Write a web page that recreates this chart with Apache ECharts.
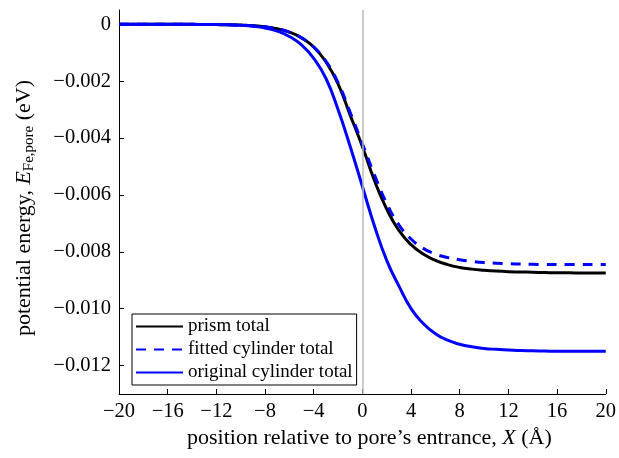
<!DOCTYPE html>
<html>
<head>
<meta charset="utf-8">
<script src="https://cdn.jsdelivr.net/npm/echarts@6/dist/echarts.min.js"></script>
<style>html,body{margin:0;padding:0;background:#fff}#c{width:619px;height:458px}</style>
</head>
<body>
<div id="c"></div>
<script>
const xValues = [-20,-19,-18,-17,-16,-15,-14,-13,-12,-11,-10,-9,-8,-7,-6,-5,-4,-3,-2,-1,0,1,2,3,4,5,6,7,8,9,10,11,12,13,14,15,16,17,18,19,20];
const prismTotal = [0,0,0,-0.000001,-0.000002,-0.000003,-0.000005,-0.000008,-0.000012,-0.00002,-0.00003,-0.00005,-0.00009,-0.00016,-0.00028,-0.00048,-0.0008,-0.00132,-0.0021,-0.0032,-0.0043,-0.0055,-0.0065,-0.00725,-0.00775,-0.00808,-0.0083,-0.00845,-0.00855,-0.00861,-0.00865,-0.00868,-0.0087,-0.00871,-0.00872,-0.00873,-0.00874,-0.00874,-0.00875,-0.00875,-0.00875];
const fittedCylinderTotal = [0,0,0,-0.000001,-0.000002,-0.000003,-0.000005,-0.000008,-0.000012,-0.00002,-0.00003,-0.00005,-0.00009,-0.00016,-0.00028,-0.00048,-0.0008,-0.0013,-0.00205,-0.0031,-0.0042,-0.0053,-0.0063,-0.00705,-0.00755,-0.00788,-0.00808,-0.0082,-0.00828,-0.00834,-0.00838,-0.0084,-0.00842,-0.00843,-0.00844,-0.00845,-0.00845,-0.00845,-0.00845,-0.00845,-0.00845];
const originalCylinderTotal = [0,0,0,-0.000001,-0.000002,-0.000003,-0.000005,-0.000008,-0.000013,-0.000022,-0.00004,-0.00007,-0.00013,-0.00024,-0.00043,-0.00073,-0.0012,-0.0019,-0.003,-0.0043,-0.0057,-0.0071,-0.0083,-0.0092,-0.01,-0.01052,-0.01088,-0.01111,-0.01125,-0.01134,-0.0114,-0.01143,-0.01145,-0.01147,-0.01148,-0.01149,-0.0115,-0.0115,-0.0115,-0.0115,-0.0115];
const yTicks = [0,-0.002,-0.004,-0.006,-0.008,-0.010,-0.012];
const xTicks = [-20,-16,-12,-8,-4,0,4,8,12,16,20];
const seriesNames = ['prism total','fitted cylinder total','original cylinder total'];

const FONT = '"Liberation Serif", "DejaVu Serif", serif';
const pair = arr => xValues.map((x, i) => [x, arr[i]]);
const fmtY = v => (Math.abs(v) < 1e-12 ? '0' : '\u2212' + Math.abs(v).toFixed(3));
const fmtX = v => (v < 0 ? '\u2212' + Math.abs(v) : String(v));

const chart = echarts.init(document.getElementById('c'), null, {renderer: 'canvas'});
chart.setOption({
  animation: false,
  backgroundColor: '#fff',
  grid: {left: 119, right: 11, top: 10, bottom: 64, containLabel: false},
  xAxis: {
    type: 'value', min: -20, max: 20, interval: 4,
    axisLine: {show: true, onZero: false, lineStyle: {color: '#000', width: 1}},
    axisTick: {show: true, inside: true, length: 5, lineStyle: {color: '#000'}, customValues: xTicks},
    splitLine: {show: false},
    axisLabel: {formatter: fmtX, color: '#000', fontFamily: FONT, fontSize: 20.5, margin: 7, customValues: xTicks},
    name: '{n|position relative to pore\u2019s entrance, }{i|X}{n| (\u00c5)}',
    nameLocation: 'middle', nameGap: 33,
    nameTextStyle: {
      padding: [0, 0, 0, 14],
      rich: {
        n: {fontFamily: FONT, fontSize: 22, color: '#000'},
        i: {fontFamily: FONT, fontSize: 22, color: '#000', fontStyle: 'italic'}
      }
    }
  },
  yAxis: {
    type: 'value', min: -0.013, max: 0.0005,
    axisLine: {show: true, onZero: false, lineStyle: {color: '#000', width: 1}},
    axisTick: {show: true, inside: true, length: 5, lineStyle: {color: '#000'}, customValues: yTicks},
    splitLine: {show: false},
    axisLabel: {formatter: fmtY, color: '#000', fontFamily: FONT, fontSize: 20.5, margin: 8, customValues: yTicks},
    name: '{n|potential energy, }{i|E}{s|Fe,pore}{n| (eV)}',
    nameLocation: 'middle', nameGap: 82, nameRotate: 90,
    nameTextStyle: {
      padding: [0, 12, 0, 0],
      rich: {
        n: {fontFamily: FONT, fontSize: 22, color: '#000', lineHeight: 26},
        i: {fontFamily: FONT, fontSize: 22, color: '#000', fontStyle: 'italic', lineHeight: 26},
        s: {fontFamily: FONT, fontSize: 15, color: '#000', padding: [11, 0, 0, 0], lineHeight: 26}
      }
    }
  },
  legend: {
    data: seriesNames,
    orient: 'vertical', left: 132, top: 314,
    backgroundColor: '#fff', borderColor: '#000', borderWidth: 1,
    padding: [3, 4, 3, 3], itemGap: 4, itemWidth: 47, itemHeight: 3,
    itemStyle: {opacity: 0},
    textStyle: {fontFamily: FONT, fontSize: 19, color: '#000', lineHeight: 18}
  },
  series: [
    {
      name: seriesNames[0], type: 'line', data: pair(prismTotal), smooth: true,
      showSymbol: false, symbol: 'none', lineStyle: {color: '#000', width: 3}, itemStyle: {color: '#000'},
      markLine: {
        silent: true, symbol: 'none', label: {show: false},
        lineStyle: {color: '#bbbbbb', width: 1.5, type: 'solid'},
        data: [{xAxis: 0}]
      },
      z: 2
    },
    {
      name: seriesNames[1], type: 'line', data: pair(fittedCylinderTotal), smooth: true,
      showSymbol: false, symbol: 'none', lineStyle: {color: '#0000ff', width: 3, type: [10, 8]}, itemStyle: {color: '#0000ff'},
      z: 3
    },
    {
      name: seriesNames[2], type: 'line', data: pair(originalCylinderTotal), smooth: true,
      showSymbol: false, symbol: 'none', lineStyle: {color: '#0000ff', width: 3}, itemStyle: {color: '#0000ff'},
      z: 4
    }
  ]
});
</script>
</body>
</html>
